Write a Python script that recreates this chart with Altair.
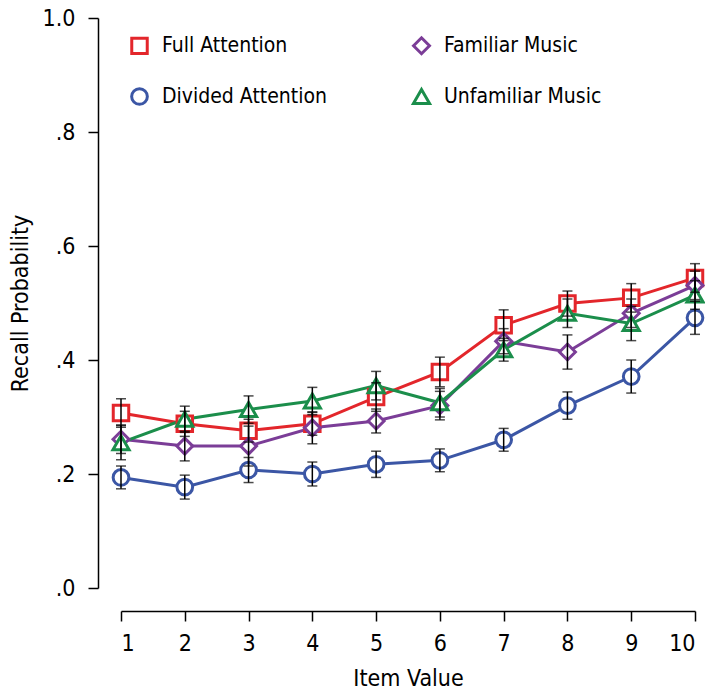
import altair as alt
import pandas as pd

# ---- data ----
item_values = [1, 2, 3, 4, 5, 6, 7, 8, 9, 10]
conditions = ["Full Attention", "Divided Attention", "Familiar Music", "Unfamiliar Music"]
colors = ["#E3262B", "#3B56A5", "#7B3D97", "#1B8E4B"]
shapes = ["square", "circle", "diamond", "triangle-up"]
marker_sizes = [240, 260, 540, 470]

full_attention = [0.307, 0.288, 0.276, 0.288, 0.335, 0.379, 0.461, 0.499, 0.509, 0.544]
full_attention_se = [0.025, 0.022, 0.020, 0.020, 0.025, 0.026, 0.027, 0.022, 0.025, 0.025]

divided_attention = [0.194, 0.177, 0.207, 0.200, 0.217, 0.224, 0.260, 0.320, 0.371, 0.474]
divided_attention_se = [0.020, 0.021, 0.022, 0.021, 0.023, 0.020, 0.020, 0.024, 0.029, 0.029]

familiar_music = [0.261, 0.249, 0.249, 0.281, 0.293, 0.320, 0.433, 0.414, 0.482, 0.531]
familiar_music_se = [0.025, 0.026, 0.035, 0.028, 0.021, 0.025, 0.022, 0.030, 0.025, 0.025]

unfamiliar_music = [0.255, 0.296, 0.313, 0.328, 0.355, 0.325, 0.418, 0.482, 0.464, 0.514]
unfamiliar_music_se = [0.030, 0.023, 0.024, 0.024, 0.025, 0.025, 0.020, 0.025, 0.030, 0.025]

series = {
    "Full Attention": (full_attention, full_attention_se),
    "Divided Attention": (divided_attention, divided_attention_se),
    "Familiar Music": (familiar_music, familiar_music_se),
    "Unfamiliar Music": (unfamiliar_music, unfamiliar_music_se),
}

rows = []
for name, (vals, ses) in series.items():
    for x, v, s in zip(item_values, vals, ses):
        rows.append({"item": x, "cond": name, "p": v, "lo": v - s, "hi": v + s})
df = pd.DataFrame(rows)

FONT = "'DejaVu Sans Condensed', 'Roboto Condensed', 'Liberation Sans Narrow', Roboto, sans-serif"

x_enc = alt.X(
    "item:Q",
    scale=alt.Scale(domain=[1, 10], nice=False, zero=False),
    axis=alt.Axis(values=item_values, title="Item Value", format="d"),
)
y_scale = alt.Scale(domain=[0, 1], nice=False)
y_axis = alt.Axis(
    values=[0, 0.2, 0.4, 0.6, 0.8, 1.0],
    title="Recall Probability",
    labelExpr="replace(format(datum.value, '.1f'), '0.', '.')",
)
color_enc = alt.Color(
    "cond:N",
    scale=alt.Scale(domain=conditions, range=colors),
    legend=alt.Legend(title=None),
)
shape_enc = alt.Shape(
    "cond:N",
    scale=alt.Scale(domain=conditions, range=shapes),
    legend=alt.Legend(title=None),
)

base = alt.Chart(df)

lines = base.mark_line(strokeWidth=3).encode(
    x=x_enc,
    y=alt.Y("p:Q", scale=y_scale, axis=y_axis),
    color=color_enc,
)

points = base.mark_point(filled=False, fill="white", fillOpacity=1, strokeWidth=3, opacity=1).encode(
    x="item:Q",
    y="p:Q",
    color=color_enc,
    shape=shape_enc,
    size=alt.Size("cond:N", scale=alt.Scale(domain=conditions, range=marker_sizes), legend=None),
)

err = base.mark_rule(color="black", strokeWidth=1.5).encode(
    x="item:Q", y="lo:Q", y2="hi:Q"
)
cap_lo = base.mark_tick(color="black", orient="horizontal", size=10, thickness=1.5).encode(
    x="item:Q", y="lo:Q"
)
cap_hi = base.mark_tick(color="black", orient="horizontal", size=10, thickness=1.5).encode(
    x="item:Q", y="hi:Q"
)

chart = (
    alt.layer(lines, points, err, cap_lo, cap_hi)
    .properties(
        width=574,
        height=570,
        autosize=alt.AutoSizeParams(type="none"),
        padding={"left": 113, "top": 10, "right": 10, "bottom": 104},
    )
    .configure_view(stroke=None)
    .configure_axis(
        grid=False,
        offset=23,
        domainColor="black",
        domainWidth=1.5,
        tickColor="black",
        tickWidth=1.5,
        tickSize=10,
        labelFont=FONT,
        labelFontSize=23,
        labelColor="black",
        titleFont=FONT,
        titleFontSize=23,
        titleFontWeight="normal",
        titleColor="black",
    )
    .configure_axisX(labelPadding=11, titlePadding=12)
    .configure_axisY(labelPadding=13, titlePadding=10)
    .configure_legend(
        orient="none",
        legendX=8,
        legendY=17,
        columns=2,
        columnPadding=80,
        rowPadding=22,
        labelFont=FONT,
        labelFontSize=21,
        labelColor="black",
        labelOffset=12,
        labelLimit=400,
        symbolStrokeWidth=3,
        symbolSize=220,
    )
)

chart.save("out.html", embed_options={"renderer": "svg", "actions": False})
